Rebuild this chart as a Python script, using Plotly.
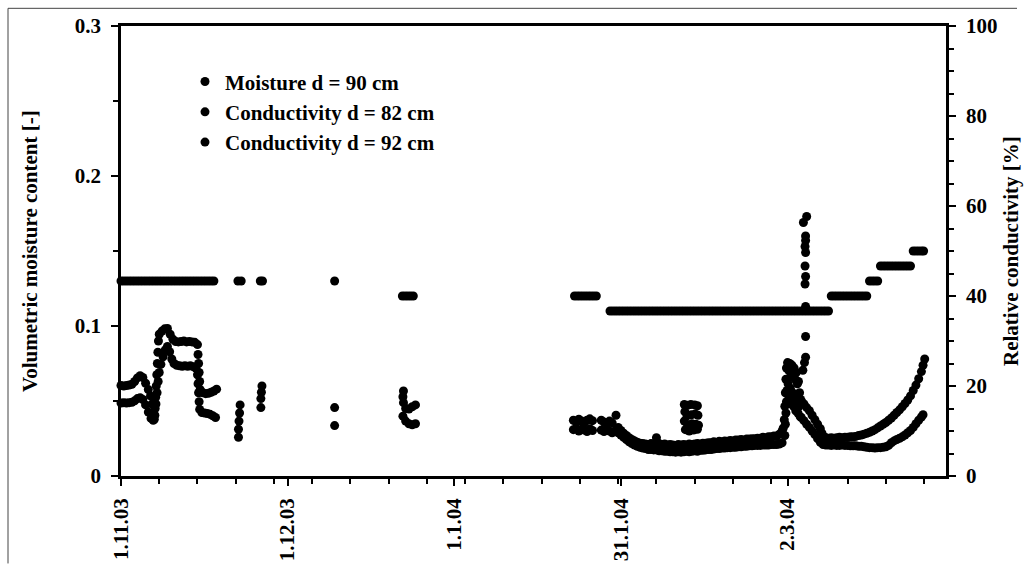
import pandas as pd
import plotly.graph_objects as go

START = pd.Timestamp("2003-11-01")

# ---- readings: (days since 1.11.03, value) ----
# volumetric moisture content at 90 cm [-]
moisture_90 = [
    (0.0, 0.13), (0.5, 0.13), (1.0, 0.13), (1.5, 0.13), (2.0, 0.13), (2.5, 0.13), (3.0, 0.13), (3.5, 0.13),
    (4.0, 0.13), (4.5, 0.13), (5.0, 0.13), (5.5, 0.13), (6.0, 0.13), (6.5, 0.13), (7.0, 0.13), (7.5, 0.13),
    (8.0, 0.13), (8.5, 0.13), (9.0, 0.13), (9.5, 0.13), (10.0, 0.13), (10.5, 0.13), (11.0, 0.13), (11.5, 0.13),
    (12.0, 0.13), (12.5, 0.13), (13.0, 0.13), (13.5, 0.13), (14.0, 0.13), (14.5, 0.13), (15.0, 0.13), (15.5, 0.13),
    (16.0, 0.13), (16.5, 0.13), (17.0, 0.13),
    (21.4, 0.13), (22.0, 0.13), (25.5, 0.13), (25.9, 0.13), (39.1, 0.13),
    (51.5, 0.12), (52.0, 0.12), (52.5, 0.12), (53.0, 0.12), (53.5, 0.12),
    (83.0, 0.12), (83.5, 0.12), (84.0, 0.12), (84.5, 0.12), (85.0, 0.12), (85.5, 0.12), (86.0, 0.12),
    (86.5, 0.12), (87.0, 0.12),
    (89.5, 0.11), (90.0, 0.11), (90.5, 0.11), (91.0, 0.11), (91.5, 0.11), (92.0, 0.11), (92.5, 0.11),
    (93.0, 0.11), (93.5, 0.11), (94.0, 0.11), (94.5, 0.11), (95.0, 0.11), (95.5, 0.11), (96.0, 0.11),
    (96.5, 0.11), (97.0, 0.11), (97.5, 0.11), (98.0, 0.11), (98.5, 0.11), (99.0, 0.11), (99.5, 0.11),
    (100.0, 0.11), (100.5, 0.11), (101.0, 0.11), (101.5, 0.11), (102.0, 0.11), (102.5, 0.11), (103.0, 0.11),
    (103.5, 0.11), (104.0, 0.11), (104.5, 0.11), (105.0, 0.11), (105.5, 0.11), (106.0, 0.11), (106.5, 0.11),
    (107.0, 0.11), (107.5, 0.11), (108.0, 0.11), (108.5, 0.11), (109.0, 0.11), (109.5, 0.11), (110.0, 0.11),
    (110.5, 0.11), (111.0, 0.11), (111.5, 0.11), (112.0, 0.11), (112.5, 0.11), (113.0, 0.11), (113.5, 0.11),
    (114.0, 0.11), (114.5, 0.11), (115.0, 0.11), (115.5, 0.11), (116.0, 0.11), (116.5, 0.11), (117.0, 0.11),
    (117.5, 0.11), (118.0, 0.11), (118.5, 0.11), (119.0, 0.11), (119.5, 0.11), (120.0, 0.11), (120.5, 0.11),
    (121.0, 0.11), (121.5, 0.11), (122.0, 0.11), (122.5, 0.11), (123.0, 0.11), (123.5, 0.11), (124.0, 0.11),
    (124.5, 0.11), (125.0, 0.11), (125.5, 0.11), (126.0, 0.11), (126.5, 0.11), (127.0, 0.11), (127.5, 0.11),
    (128.0, 0.11), (128.5, 0.11), (129.0, 0.11), (129.5, 0.11),
    (124.9, 0.169), (125.5, 0.173), (125.3, 0.160), (125.3, 0.157), (125.2, 0.153), (125.3, 0.149),
    (125.2, 0.140), (125.3, 0.133), (125.2, 0.128), (125.3, 0.113), (125.3, 0.093),
    (130.0, 0.12), (130.5, 0.12), (131.0, 0.12), (131.5, 0.12), (132.0, 0.12), (132.5, 0.12), (133.0, 0.12),
    (133.5, 0.12), (134.0, 0.12), (134.5, 0.12), (135.0, 0.12), (135.5, 0.12), (136.0, 0.12), (136.5, 0.12),
    (137.0, 0.13), (137.5, 0.13), (138.0, 0.13), (138.5, 0.13),
    (139.0, 0.14), (139.5, 0.14), (140.0, 0.14), (140.5, 0.14), (141.0, 0.14), (141.5, 0.14), (142.0, 0.14),
    (142.5, 0.14), (143.0, 0.14), (143.5, 0.14), (144.0, 0.14), (144.5, 0.14),
    (145.0, 0.15), (145.5, 0.15), (146.0, 0.15), (146.5, 0.15), (146.9, 0.15),
]

# relative conductivity at 82 cm [%]
conductivity_82 = [
    (0.0, 20.1), (0.5, 20.0), (1.0, 20.1), (1.5, 20.2), (2.0, 20.4), (2.5, 21.0), (3.0, 21.8), (3.5, 22.3),
    (4.0, 21.9), (4.5, 20.6), (5.0, 19.2), (5.4, 17.8), (5.7, 16.0), (5.9, 14.0), (6.1, 12.6), (6.25, 15.0),
    (6.35, 17.5), (6.45, 20.0), (6.55, 22.5), (6.65, 25.0), (6.75, 27.5), (6.85, 30.0), (7.0, 31.5), (7.5, 32.2),
    (8.0, 32.7), (8.5, 32.8), (9.0, 31.5), (9.5, 30.4), (10.0, 29.9), (10.5, 29.8), (11.0, 29.9), (11.5, 30.0),
    (12.0, 29.8), (12.5, 29.9), (13.0, 29.8), (13.5, 29.7), (14.0, 29.2), (14.1, 27.0), (14.2, 25.0), (14.3, 23.0),
    (14.4, 21.0), (14.5, 19.2), (15.0, 18.5), (15.5, 18.3), (16.0, 18.4), (16.5, 18.6), (17.0, 18.9), (17.5, 19.3),
    (21.8, 15.8), (21.7, 14.0), (21.6, 12.2), (25.8, 20.0), (25.7, 18.6), (25.6, 17.2), (39.1, 15.2),
    (51.7, 18.9), (51.6, 17.6), (51.7, 16.3), (52.1, 15.0), (52.7, 14.9), (53.3, 15.4), (53.9, 15.8),
    (82.8, 12.4), (83.3, 12.0), (83.8, 12.6), (84.3, 12.2), (84.8, 11.9), (85.3, 12.4), (85.8, 12.7), (86.3, 12.3),
    (87.9, 12.4), (88.4, 12.0), (88.9, 11.6), (89.4, 12.2), (89.9, 11.8), (90.6, 13.5),
    (91.0, 10.8), (91.5, 10.1), (92.0, 9.5), (92.5, 9.0), (93.0, 8.5), (93.5, 8.1), (94.0, 7.8), (94.5, 7.5),
    (95.0, 7.3), (95.5, 7.2), (96.0, 7.1), (96.5, 7.0), (97.0, 7.2), (97.5, 7.1), (98.0, 8.5), (98.5, 7.2),
    (99.0, 7.0), (99.5, 7.1), (100.0, 6.9), (100.5, 7.0), (101.0, 6.9), (101.5, 6.8), (102.0, 7.0), (102.5, 6.9),
    (103.0, 7.0), (103.5, 6.9), (104.0, 7.1), (104.5, 7.0), (105.0, 7.1), (105.5, 7.2), (106.0, 7.1), (106.5, 7.3),
    (107.0, 7.3), (107.5, 7.4), (108.0, 7.4), (108.5, 7.6), (109.0, 7.5), (109.5, 7.7), (110.0, 7.6), (110.5, 7.8),
    (111.0, 7.7), (111.5, 7.9), (112.0, 7.8), (112.5, 8.0), (113.0, 8.0), (113.5, 8.1), (114.0, 8.0), (114.5, 8.2),
    (115.0, 8.2), (115.5, 8.3), (116.0, 8.3), (116.5, 8.4), (117.0, 8.4), (117.5, 8.6), (118.0, 8.5), (118.5, 8.7),
    (119.0, 8.7), (119.5, 8.9), (120.0, 8.9), (120.5, 9.3), (121.0, 10.0), (121.2, 10.6),
    (103.1, 15.9), (103.7, 15.7), (104.3, 15.9), (105.0, 15.8), (105.5, 15.6),
    (103.2, 14.3), (103.6, 13.4), (104.4, 13.6), (105.1, 13.8), (105.6, 13.5),
    (103.1, 12.2), (103.7, 11.4), (104.5, 11.6), (105.2, 11.5), (105.7, 11.3),
    (103.3, 10.3), (104.0, 10.0), (104.8, 10.2), (105.5, 10.4),
    (121.4, 12.5), (121.5, 15.5), (121.6, 18.5), (121.7, 21.5), (121.8, 24.0), (122.0, 25.2), (122.2, 23.5),
    (122.4, 25.0), (122.6, 22.8), (122.8, 24.6), (123.0, 22.0), (123.2, 24.0), (123.4, 21.5), (123.6, 23.0),
    (123.8, 20.5), (124.0, 21.0), (124.2, 18.5), (124.4, 17.0), (124.8, 23.5), (125.1, 25.2), (125.3, 26.4),
    (124.6, 16.5), (125.0, 16.0), (125.5, 15.2), (126.0, 14.5), (126.5, 13.5), (127.0, 12.5), (127.5, 11.5),
    (128.0, 10.5), (128.3, 9.5), (128.6, 8.8),
    (129.0, 8.5), (129.5, 8.4), (130.0, 8.5), (130.5, 8.4), (131.0, 8.5), (131.5, 8.6), (132.0, 8.5), (132.5, 8.6),
    (133.0, 8.6), (133.5, 8.7), (134.0, 8.7), (134.5, 8.8), (135.0, 9.0), (135.5, 9.1), (136.0, 9.3), (136.5, 9.5),
    (137.0, 9.7), (137.5, 10.0), (138.0, 10.3), (138.5, 10.7), (139.0, 11.1), (139.5, 11.5), (140.0, 11.9),
    (140.5, 12.4), (141.0, 12.9), (141.5, 13.5), (142.0, 14.1), (142.5, 14.7), (143.0, 15.4), (143.5, 16.1),
    (144.0, 16.9), (144.5, 17.8), (145.0, 19.0), (145.5, 20.2), (146.0, 21.6), (146.5, 23.2), (146.8, 24.6),
    (147.1, 26.0),
]

# relative conductivity at 92 cm [%]
conductivity_92 = [
    (0.0, 16.2), (0.5, 16.3), (1.0, 16.2), (1.5, 16.3), (2.0, 16.4), (2.5, 16.7), (3.0, 17.2), (3.5, 17.4),
    (4.0, 17.0), (4.5, 15.8), (5.0, 14.2), (5.5, 12.8), (5.9, 12.4), (6.2, 13.5), (6.4, 16.0), (6.6, 18.5),
    (6.8, 21.0), (7.0, 23.0), (7.3, 24.8), (7.7, 26.5), (8.1, 28.0), (8.5, 28.8), (8.9, 27.6), (9.3, 26.0),
    (9.7, 25.0), (10.2, 24.6), (10.7, 24.5), (11.2, 24.4), (11.7, 24.5), (12.2, 24.4), (12.7, 24.5), (13.2, 24.3),
    (13.7, 24.0), (14.0, 22.5), (14.1, 20.5), (14.2, 18.5), (14.3, 16.5), (14.4, 14.8), (14.8, 14.1), (15.3, 14.0),
    (15.8, 13.9), (16.3, 13.7), (16.8, 13.4), (17.3, 13.0),
    (21.5, 10.4), (21.5, 8.6), (25.6, 15.2), (39.1, 11.2),
    (51.6, 13.3), (52.1, 12.2), (52.7, 11.6), (53.3, 11.4), (53.9, 11.6),
    (82.8, 10.3), (83.3, 10.6), (83.8, 10.0), (84.3, 10.4), (84.8, 10.2), (85.3, 9.9), (85.8, 10.5), (86.3, 10.1),
    (87.9, 10.2), (88.4, 9.9), (88.9, 10.4), (89.4, 10.0), (89.9, 9.6), (90.4, 10.0),
    (91.0, 9.6), (91.5, 9.1), (92.0, 8.6), (92.5, 8.1), (93.0, 7.6), (93.5, 7.2), (94.0, 6.9), (94.5, 6.6),
    (95.0, 6.4), (95.5, 6.2), (96.0, 6.1), (96.5, 5.9), (97.0, 5.9), (97.5, 5.8), (98.0, 5.8), (98.5, 5.6),
    (99.0, 5.6), (99.5, 5.5), (100.0, 5.5), (100.5, 5.4), (101.0, 5.4), (101.5, 5.3), (102.0, 5.4), (102.5, 5.3),
    (103.0, 5.4), (103.5, 5.5), (104.0, 5.4), (104.5, 5.5), (105.0, 5.6), (105.5, 5.5), (106.0, 5.7), (106.5, 5.7),
    (107.0, 5.8), (107.5, 5.9), (108.0, 5.9), (108.5, 6.0), (109.0, 6.1), (109.5, 6.1), (110.0, 6.2), (110.5, 6.2),
    (111.0, 6.3), (111.5, 6.3), (112.0, 6.4), (112.5, 6.4), (113.0, 6.5), (113.5, 6.5), (114.0, 6.6), (114.5, 6.6),
    (115.0, 6.7), (115.5, 6.7), (116.0, 6.8), (116.5, 6.8), (117.0, 6.8), (117.5, 6.9), (118.0, 6.9), (118.5, 6.9),
    (119.0, 7.0), (119.5, 7.0), (120.0, 7.0), (120.5, 7.1), (121.0, 7.4),
    (121.5, 9.0), (121.6, 11.5), (121.7, 14.0), (121.8, 16.5), (121.9, 19.0), (122.1, 20.5), (122.3, 17.5),
    (122.5, 19.5), (122.7, 16.0), (122.9, 18.5), (123.1, 15.5), (123.3, 17.5), (123.5, 14.5), (123.7, 16.5),
    (123.9, 14.0), (124.1, 15.5), (124.3, 13.2),
    (124.5, 13.0), (125.0, 12.3), (125.5, 11.5), (126.0, 10.8), (126.5, 10.0), (127.0, 9.2), (127.5, 8.3),
    (128.0, 7.5), (128.5, 7.0),
    (129.0, 6.9), (129.5, 6.9), (130.0, 6.8), (130.5, 6.9), (131.0, 6.8), (131.5, 6.8), (132.0, 6.9), (132.5, 6.8),
    (133.0, 6.8), (133.5, 6.7), (134.0, 6.7), (134.5, 6.7), (135.0, 6.6), (135.5, 6.6), (136.0, 6.5), (136.5, 6.4),
    (137.0, 6.3), (137.5, 6.3), (138.0, 6.2), (138.5, 6.3), (139.0, 6.3), (139.5, 6.4), (140.0, 6.5), (140.5, 6.8),
    (141.0, 7.4), (141.5, 7.8), (142.0, 8.1), (142.5, 8.4), (143.0, 8.7), (143.5, 9.1), (144.0, 9.6), (144.5, 10.1),
    (145.0, 10.8), (145.5, 11.6), (146.0, 12.4), (146.5, 13.1), (146.8, 13.6),
]

series_names = ["Moisture d = 90 cm", "Conductivity d = 82 cm", "Conductivity d = 92 cm"]

# x-axis labels (major unit 30.5 days)
tick_days = [0, 30.5, 61, 91.5, 122]
tick_labels = ["1.11.03", "1.12.03", "1.1.04", "31.1.04", "2.3.04"]

moist_ticks = [0, 0.1, 0.2, 0.3]
moist_labels = ["0", "0.1", "0.2", "0.3"]
cond_ticks = [0, 20, 40, 60, 80, 100]
cond_labels = ["0", "20", "40", "60", "80", "100"]


def when(days):
    return [START + pd.Timedelta(days=d) for d in days]


def split(readings):
    return when([d for d, _ in readings]), [v for _, v in readings]


# ---- page geometry (pixels) ----
W, H = 1026, 573
ML, MR, MT, MB = 121, 80, 26, 89
PW, PH = W - ML - MR, H - MT - MB


def px(x):
    return (x - ML) / PW


def py(y):
    return (H - MB - y) / PH


FONT = "Liberation Serif"
bold = dict(family=FONT, size=21, color="black", weight="bold")
marker = dict(color="black", size=9, line=dict(width=0))

fig = go.Figure()
for name, readings, axis in zip(series_names,
                                [moisture_90, conductivity_82, conductivity_92],
                                ["y", "y2", "y2"]):
    xs, ys = split(readings)
    fig.add_trace(go.Scatter(x=xs, y=ys, mode="markers", name=name, yaxis=axis,
                             marker=marker, cliponaxis=False, hoverinfo="skip"))

x_range = [START, START + pd.Timedelta(days=151)]
axis_line = dict(showline=True, linewidth=2.5, linecolor="black", showgrid=False, zeroline=False)
major = dict(ticklen=7, tickwidth=2, tickcolor="black")
minor_style = dict(ticks="outside", ticklen=5, tickwidth=2, tickcolor="black", tickmode="linear")
inside = dict(ticks="inside", ticklen=6, tickwidth=2, tickcolor="black", showticklabels=False,
              showline=False, showgrid=False, zeroline=False, tickmode="array")

fig.update_layout(
    width=W, height=H,
    margin=dict(l=ML, r=MR, t=MT, b=MB, pad=0),
    paper_bgcolor="white", plot_bgcolor="white",
    xaxis=dict(type="date", range=x_range, tickmode="array", tickvals=when(tick_days), ticktext=tick_labels,
               tickangle=-90, ticks="outside", tickfont=bold, mirror=True, ticklabelstandoff=4,
               minor=dict(dtick=7 * 86400000, tick0="2003-11-01", **minor_style),
               **major, **axis_line),
    yaxis=dict(range=[0, 0.3], tickmode="array", tickvals=moist_ticks, ticktext=moist_labels,
               ticks="outside", tickfont=bold, ticklabelstandoff=6,
               minor=dict(dtick=0.05, tick0=0, **minor_style), **major, **axis_line),
    yaxis2=dict(range=[0, 100], overlaying="y", side="right", anchor="x", tickmode="array",
                tickvals=cond_ticks, ticktext=cond_labels, ticks="outside", tickfont=bold,
                ticklabelstandoff=6, minor=dict(dtick=5, tick0=0, **minor_style), **major, **axis_line),
    xaxis2=dict(type="date", range=x_range, overlaying="x", anchor="y", side="bottom",
                tickvals=when(tick_days[1:]), **inside),
    yaxis3=dict(range=[0, 0.3], overlaying="y", anchor="x", side="left", tickvals=moist_ticks[1:3], **inside),
    yaxis4=dict(range=[0, 100], overlaying="y", anchor="x", side="right", tickvals=cond_ticks[1:5], **inside),
    showlegend=True,
    legend=dict(x=px(185), y=py(62), xanchor="left", yanchor="top", bgcolor="rgba(0,0,0,0)",
                borderwidth=0, font=bold, itemwidth=30, tracegroupgap=0),
    annotations=[
        dict(text="Volumetric moisture content [-]", xref="paper", yref="paper", x=px(30), y=0.5,
             textangle=-90, showarrow=False, font=bold, xanchor="center", yanchor="middle"),
        dict(text="Relative conductivity [%]", xref="paper", yref="paper", x=px(1011), y=0.5,
             textangle=-90, showarrow=False, font=bold, xanchor="center", yanchor="middle"),
    ],
    shapes=[
        dict(type="line", xref="paper", yref="paper", x0=px(8), x1=px(8), y0=py(8), y1=py(H),
             line=dict(color="#444", width=1)),
        dict(type="line", xref="paper", yref="paper", x0=px(8), x1=px(1017), y0=py(8), y1=py(8),
             line=dict(color="#444", width=1)),
    ],
)

fig.write_html("out.html")
